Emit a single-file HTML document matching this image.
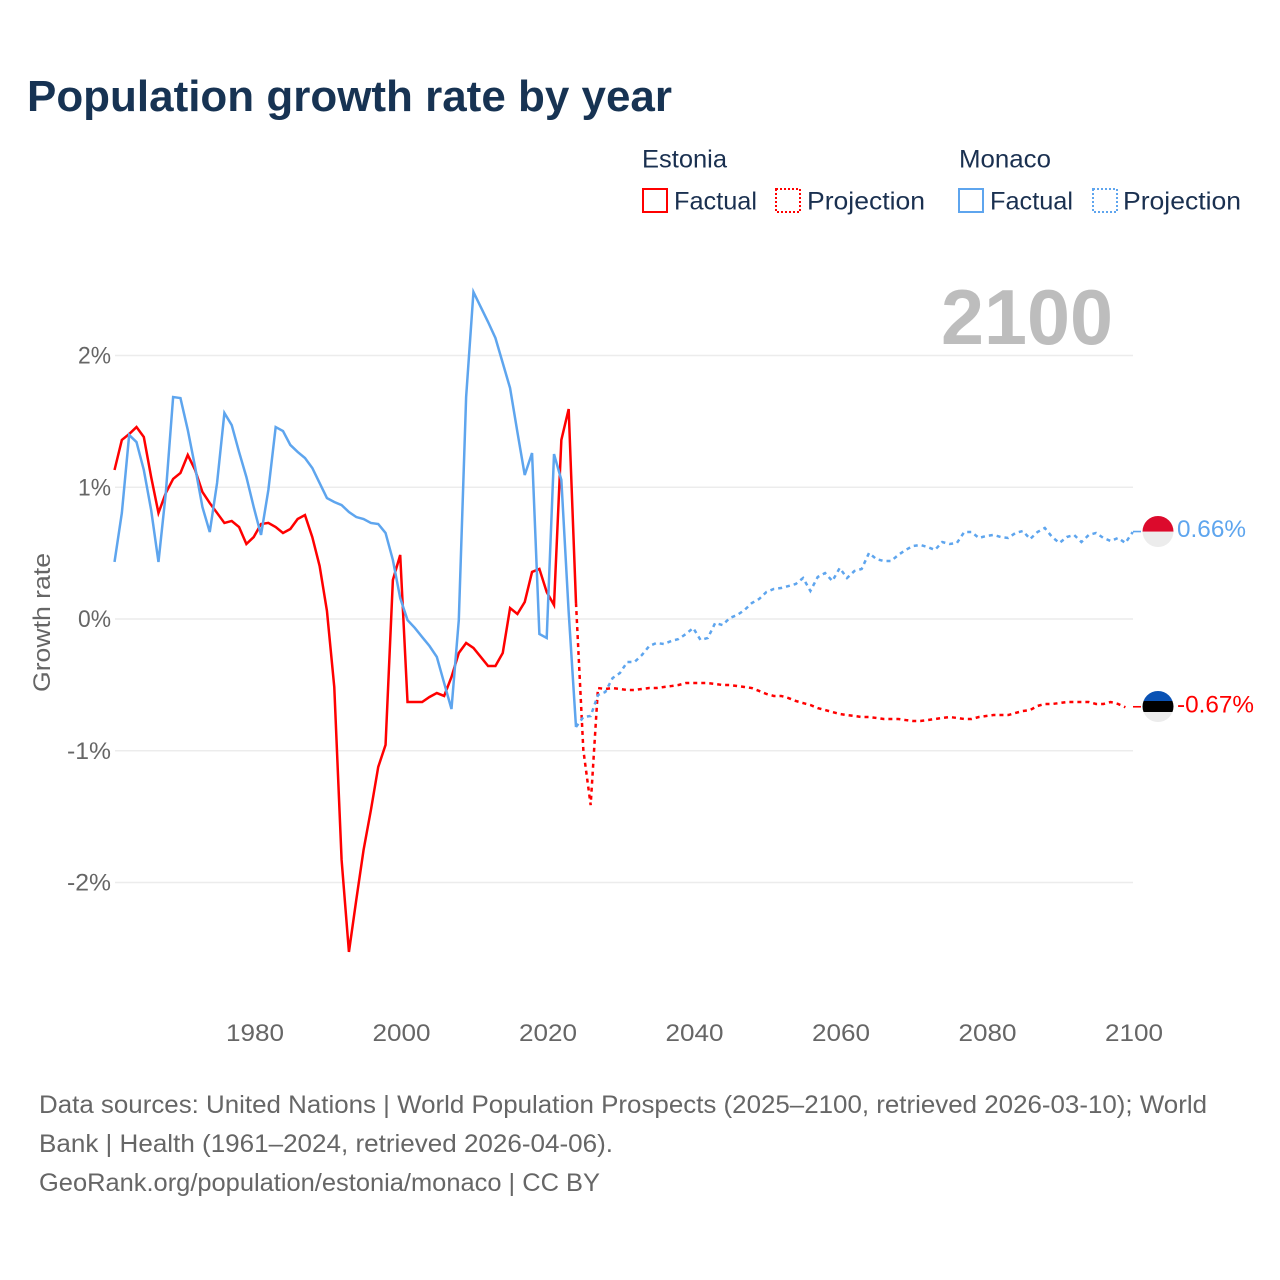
<!DOCTYPE html>
<html lang="en">
<head>
<meta charset="utf-8">
<title>Population growth rate by year</title>
<style>
html,body{margin:0;padding:0;background:#fff;}
svg{display:block;}
text{font-family:"Liberation Sans",sans-serif;}
</style>
</head>
<body>
<svg id="chart" width="1280" height="1280" viewBox="0 0 1280 1280" xmlns="http://www.w3.org/2000/svg">
<defs>
<clipPath id="clip-mc"><circle cx="1158" cy="531.5" r="15.5"/></clipPath>
<clipPath id="clip-ee"><circle cx="1158" cy="706.5" r="15.5"/></clipPath>
</defs>
<text x="27" y="111" font-size="44" font-weight="700" fill="#173353" textLength="645" lengthAdjust="spacingAndGlyphs">Population growth rate by year</text>

<g font-size="25" fill="#1a3050">
<text x="642" y="167.5" textLength="85" lengthAdjust="spacingAndGlyphs">Estonia</text>
<text x="959" y="167.5" textLength="92" lengthAdjust="spacingAndGlyphs">Monaco</text>
<rect x="643" y="189" width="24" height="23" fill="none" stroke="#ff0000" stroke-width="2"/>
<text x="674" y="209.5" textLength="83" lengthAdjust="spacingAndGlyphs">Factual</text>
<rect x="776" y="189" width="24" height="23" fill="none" stroke="#ff0000" stroke-width="2" stroke-dasharray="2 2"/>
<text x="807" y="209.5" textLength="118" lengthAdjust="spacingAndGlyphs">Projection</text>
<rect x="959" y="189" width="24" height="23" fill="none" stroke="#5ea5ee" stroke-width="2"/>
<text x="990" y="209.5" textLength="83" lengthAdjust="spacingAndGlyphs">Factual</text>
<rect x="1093" y="189" width="24" height="23" fill="none" stroke="#5ea5ee" stroke-width="2" stroke-dasharray="2 2"/>
<text x="1123" y="209.5" textLength="118" lengthAdjust="spacingAndGlyphs">Projection</text>
</g>

<g id="grid"></g>
<text x="941" y="344" font-size="78" font-weight="700" fill="#bdbdbd" textLength="172" lengthAdjust="spacingAndGlyphs">2100</text>
<g id="yticks"></g>
<g id="xticks"></g>
<text transform="translate(50,692) rotate(-90)" x="0" y="0" font-size="24" fill="#666666" textLength="139" lengthAdjust="spacingAndGlyphs">Growth rate</text>
<g id="series"></g>

<g>
<g clip-path="url(#clip-mc)">
<rect x="1142" y="515" width="32" height="16.7" fill="#dc0a2c"/>
<rect x="1142" y="531.7" width="32" height="16" fill="#ececec"/>
</g>
</g>
<g>
<g clip-path="url(#clip-ee)">
<rect x="1142" y="690" width="32" height="11" fill="#0a52b4"/>
<rect x="1142" y="701" width="32" height="11" fill="#000000"/>
<rect x="1142" y="712" width="32" height="11" fill="#ececec"/>
</g>
</g>
<g id="endlabels"></g>

<g font-size="25" fill="#666666">
<text x="39" y="1113" textLength="1168" lengthAdjust="spacingAndGlyphs">Data sources: United Nations | World Population Prospects (2025–2100, retrieved 2026-03-10); World</text>
<text x="39" y="1152" textLength="574" lengthAdjust="spacingAndGlyphs">Bank | Health (1961–2024, retrieved 2026-04-06).</text>
<text x="39" y="1191" textLength="561" lengthAdjust="spacingAndGlyphs">GeoRank.org/population/estonia/monaco | CC BY</text>
</g>
</svg>
<script>
const factualStartYear = 1961;
const projectionStartYear = 2024;
const yTickValues = [2, 1, 0, -1, -2];
const yTickLabels = ['2%', '1%', '0%', '-1%', '-2%'];
const xTickYears = [1980, 2000, 2020, 2040, 2060, 2080, 2100];
const estoniaFactual = [1.131,1.359,1.404,1.457,1.381,1.078,0.805,0.956,1.063,1.108,1.245,1.131,0.964,0.880,0.805,0.729,0.744,0.698,0.569,0.622,0.721,0.729,0.698,0.653,0.683,0.759,0.789,0.622,0.402,0.061,-0.516,-1.829,-2.527,-2.133,-1.753,-1.450,-1.123,-0.956,0.296,0.486,-0.630,-0.630,-0.630,-0.592,-0.562,-0.584,-0.440,-0.258,-0.182,-0.220,-0.288,-0.357,-0.357,-0.258,0.083,0.038,0.129,0.357,0.380,0.205,0.106,1.359,1.594,0.121];
const estoniaProjection = [0.121,-0.994,-1.412,-0.524,-0.531,-0.524,-0.531,-0.539,-0.539,-0.531,-0.524,-0.524,-0.516,-0.509,-0.501,-0.486,-0.486,-0.486,-0.486,-0.493,-0.501,-0.501,-0.509,-0.516,-0.524,-0.546,-0.569,-0.584,-0.584,-0.600,-0.622,-0.638,-0.653,-0.676,-0.691,-0.706,-0.721,-0.729,-0.736,-0.744,-0.744,-0.751,-0.759,-0.759,-0.759,-0.767,-0.774,-0.774,-0.767,-0.759,-0.751,-0.744,-0.751,-0.759,-0.759,-0.744,-0.736,-0.729,-0.729,-0.729,-0.713,-0.698,-0.691,-0.660,-0.645,-0.645,-0.638,-0.630,-0.630,-0.630,-0.630,-0.645,-0.645,-0.630,-0.645,-0.67];
const monacoFactual = [0.433,0.805,1.397,1.343,1.131,0.827,0.433,0.956,1.685,1.677,1.435,1.154,0.850,0.660,1.032,1.564,1.472,1.268,1.078,0.850,0.638,0.979,1.457,1.427,1.321,1.268,1.222,1.146,1.032,0.918,0.888,0.865,0.812,0.774,0.759,0.729,0.721,0.653,0.448,0.159,-0.008,-0.068,-0.137,-0.205,-0.288,-0.486,-0.683,-0.008,1.685,2.482,2.368,2.254,2.133,1.943,1.753,1.419,1.093,1.260,-0.114,-0.144,1.252,1.055,0.053,-0.820];
const monacoProjection = [-0.820,-0.744,-0.736,-0.577,-0.554,-0.448,-0.410,-0.326,-0.326,-0.273,-0.205,-0.182,-0.190,-0.167,-0.152,-0.114,-0.068,-0.159,-0.144,-0.030,-0.046,0.008,0.030,0.068,0.121,0.152,0.205,0.228,0.235,0.250,0.266,0.311,0.213,0.319,0.349,0.288,0.387,0.311,0.364,0.380,0.501,0.455,0.440,0.440,0.486,0.524,0.554,0.562,0.546,0.524,0.584,0.569,0.577,0.660,0.660,0.615,0.630,0.638,0.622,0.615,0.653,0.668,0.607,0.660,0.691,0.622,0.577,0.622,0.638,0.584,0.638,0.653,0.615,0.592,0.615,0.577,0.66];

const NS = 'http://www.w3.org/2000/svg';
const RED = '#ff0000';
const BLUE = '#5ea5ee';
function xScale(year) { return 253.7 + (year - 1980) * 7.325; }
function yScale(v) { return 619 - v * 131.75; }
function make(tag, parent, attrs) {
  const el = document.createElementNS(NS, tag);
  for (const k in attrs) el.setAttribute(k, attrs[k]);
  parent.appendChild(el);
  return el;
}
function pointsFor(values, startYear) {
  return values.map(function (v, i) {
    return xScale(startYear + i).toFixed(2) + ',' + yScale(v).toFixed(2);
  }).join(' ');
}

const gridG = document.getElementById('grid');
const yG = document.getElementById('yticks');
yTickValues.forEach(function (v, i) {
  const line = make('line', gridG, { x1: 115, x2: 1133, y1: yScale(v), y2: yScale(v), stroke: '#ececec', 'stroke-width': 1.5 });
  
  
  const w = yTickLabels[i].length * 11 + 11;
  const t = make('text', yG, { x: 111 - w, y: yScale(v) + 8, 'font-size': 24, fill: '#666666', textLength: w, lengthAdjust: 'spacingAndGlyphs' });
  
  
  t.textContent = yTickLabels[i];
});

const xG = document.getElementById('xticks');
xTickYears.forEach(function (year) {
  const t = make('text', xG, { x: xScale(year) - 27.7, y: 1041, 'font-size': 24, fill: '#666666', textLength: 58, lengthAdjust: 'spacingAndGlyphs' });
  
  
  t.textContent = String(year);
});

const seriesG = document.getElementById('series');
function drawLine(values, startYear, color, dashed, name) {
  const attrs = { points: pointsFor(values, startYear), fill: 'none', stroke: color, 'stroke-width': 2.5, 'stroke-linejoin': 'miter' };
  if (dashed) attrs['stroke-dasharray'] = '4 4';
  const p = make('polyline', seriesG, attrs);
  
  
}
drawLine(estoniaFactual, factualStartYear, RED, false, 'estonia-factual-line');
drawLine(estoniaProjection, projectionStartYear, RED, true, 'estonia-projection-line');
drawLine(monacoFactual, factualStartYear, BLUE, false, 'monaco-factual-line');
drawLine(monacoProjection, projectionStartYear, BLUE, true, 'monaco-projection-line');

const endG = document.getElementById('endlabels');
function drawEnd(values, color, width, name) {
  const last = values[values.length - 1];
  const y = yScale(last);
  const c = make('line', endG, { x1: 1133, x2: 1141, y1: y - 0.5, y2: y - 0.5, stroke: color, 'stroke-width': 1.6 });
  
  
  const t = make('text', endG, { x: 1177, y: y + 5, 'font-size': 24, fill: color, textLength: width, lengthAdjust: 'spacingAndGlyphs' });
  
  
  t.textContent = last.toFixed(2) + '%';
}
drawEnd(monacoProjection, BLUE, 69, 'monaco');
drawEnd(estoniaProjection, RED, 77, 'estonia');
</script>
</body>
</html>
